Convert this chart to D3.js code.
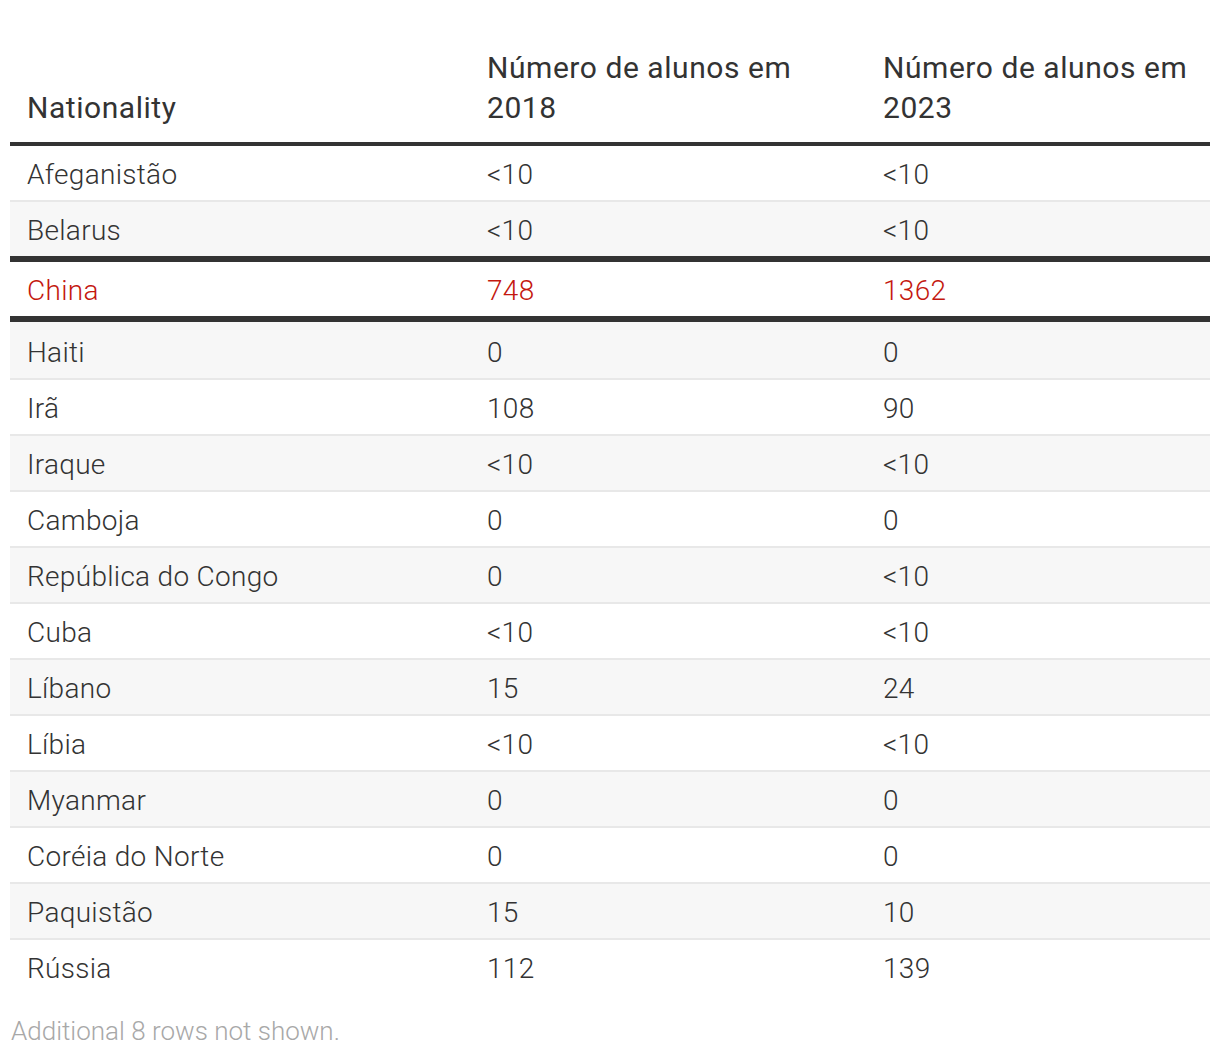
<!DOCTYPE html>
<html>
<head>
<meta charset="utf-8">
<script src="https://cdn.jsdelivr.net/npm/d3@7"></script>
<style>
  html, body { margin: 0; padding: 0; background: #fff; }
  svg { display: block; }
</style>
</head>
<body>
<div id="chart"></div>
<script>
const columns = ["Nationality", "Número de alunos em 2018", "Número de alunos em 2023"];
const headerLines = [["Nationality"], ["Número de alunos em", "2018"], ["Número de alunos em", "2023"]];
const nationalities = ["Afeganistão", "Belarus", "China", "Haiti", "Irã", "Iraque", "Camboja", "República do Congo", "Cuba", "Líbano", "Líbia", "Myanmar", "Coréia do Norte", "Paquistão", "Rússia"];
const students2018 = ["<10", "<10", "748", "0", "108", "<10", "0", "0", "<10", "15", "<10", "0", "0", "15", "112"];
const students2023 = ["<10", "<10", "1362", "0", "90", "<10", "0", "<10", "<10", "24", "<10", "0", "0", "10", "139"];
const highlighted = ["China"];
const footnote = "Additional 8 rows not shown.";

const W = 1220, H = 1056;
const tableLeft = 10, tableRight = 1210;
const headerBottom = 142, headerRule = 4;
const rowH = 56, thickRule = 6;

const svg = d3.select("#chart").append("svg").attr("width", W).attr("height", H);

const x = d3.scaleOrdinal().domain(columns).range([27, 487, 883]);

// row geometry
const rows = nationalities.map((n, i) => ({ name: n, v2018: students2018[i], v2023: students2023[i], hi: highlighted.includes(n), i }));
let yTop = headerBottom + headerRule;
rows.forEach((r, i) => {
  const prevHi = i > 0 && rows[i - 1].hi;
  r.h = rowH - 2;
  if (r.hi) { yTop += thickRule - 2; }
  if (prevHi) { yTop += thickRule - 2; r.h = rowH; }
  r.y = yTop;
  yTop += r.h + 2;
});

const font = "Roboto, 'Open Sans', sans-serif";

// header
headerLines.forEach((lines, c) => {
  const t = svg.append("text")
    .attr("x", x(columns[c]))
    .attr("font-family", font).attr("font-size", 30).attr("font-weight", 400)
    .attr("letter-spacing", 0.55).attr("fill", "#333");
  lines.forEach((ln, k) => {
    t.append("tspan").attr("x", x(columns[c]))
      .attr("y", 118 - (lines.length - 1 - k) * 40).text(ln);
  });
});
svg.append("rect").attr("x", tableLeft).attr("y", headerBottom).attr("width", tableRight - tableLeft).attr("height", headerRule).attr("fill", "#333");

// rows
const g = svg.append("g");
const rowG = g.selectAll("g.row").data(rows).join("g").attr("class", "row");
rowG.append("rect")
  .attr("x", tableLeft).attr("y", d => d.y).attr("width", tableRight - tableLeft).attr("height", d => d.h)
  .attr("fill", d => d.i % 2 === 1 ? "#f7f7f7" : "#fff");
rowG.filter(d => d.i < rows.length - 1 && !d.hi && !rows[d.i + 1].hi)
  .append("rect")
  .attr("x", tableLeft).attr("y", d => d.y + d.h).attr("width", tableRight - tableLeft).attr("height", 2)
  .attr("fill", "#e8e8e8");
rowG.filter(d => d.hi).each(function (d) {
  d3.select(this).append("rect").attr("x", tableLeft).attr("y", d.y - thickRule).attr("width", tableRight - tableLeft).attr("height", thickRule).attr("fill", "#333");
  d3.select(this).append("rect").attr("x", tableLeft).attr("y", d.y + d.h).attr("width", tableRight - tableLeft).attr("height", thickRule).attr("fill", "#333");
});
const cellVals = d => [d.name, d.v2018, d.v2023];
rowG.each(function (d) {
  const center = d.y + (rowH - 2) / 2 + (d.h > rowH - 2 ? 2 : 0);
  d3.select(this).selectAll("text").data(cellVals(d)).join("text")
    .attr("x", (v, c) => x(columns[c]))
    .attr("y", center + 11)
    .attr("font-family", font).attr("font-size", 28).attr("font-weight", 300)
    .attr("letter-spacing", 0.3)
    .attr("fill", d.hi ? "#c4180f" : "#333")
    .text(v => v);
});

svg.append("text").attr("x", 11).attr("y", 1040)
  .attr("font-family", font).attr("font-size", 26).attr("font-weight", 300).attr("fill", "#a8a8a8")
  .text(footnote);
</script>
</body>
</html>
